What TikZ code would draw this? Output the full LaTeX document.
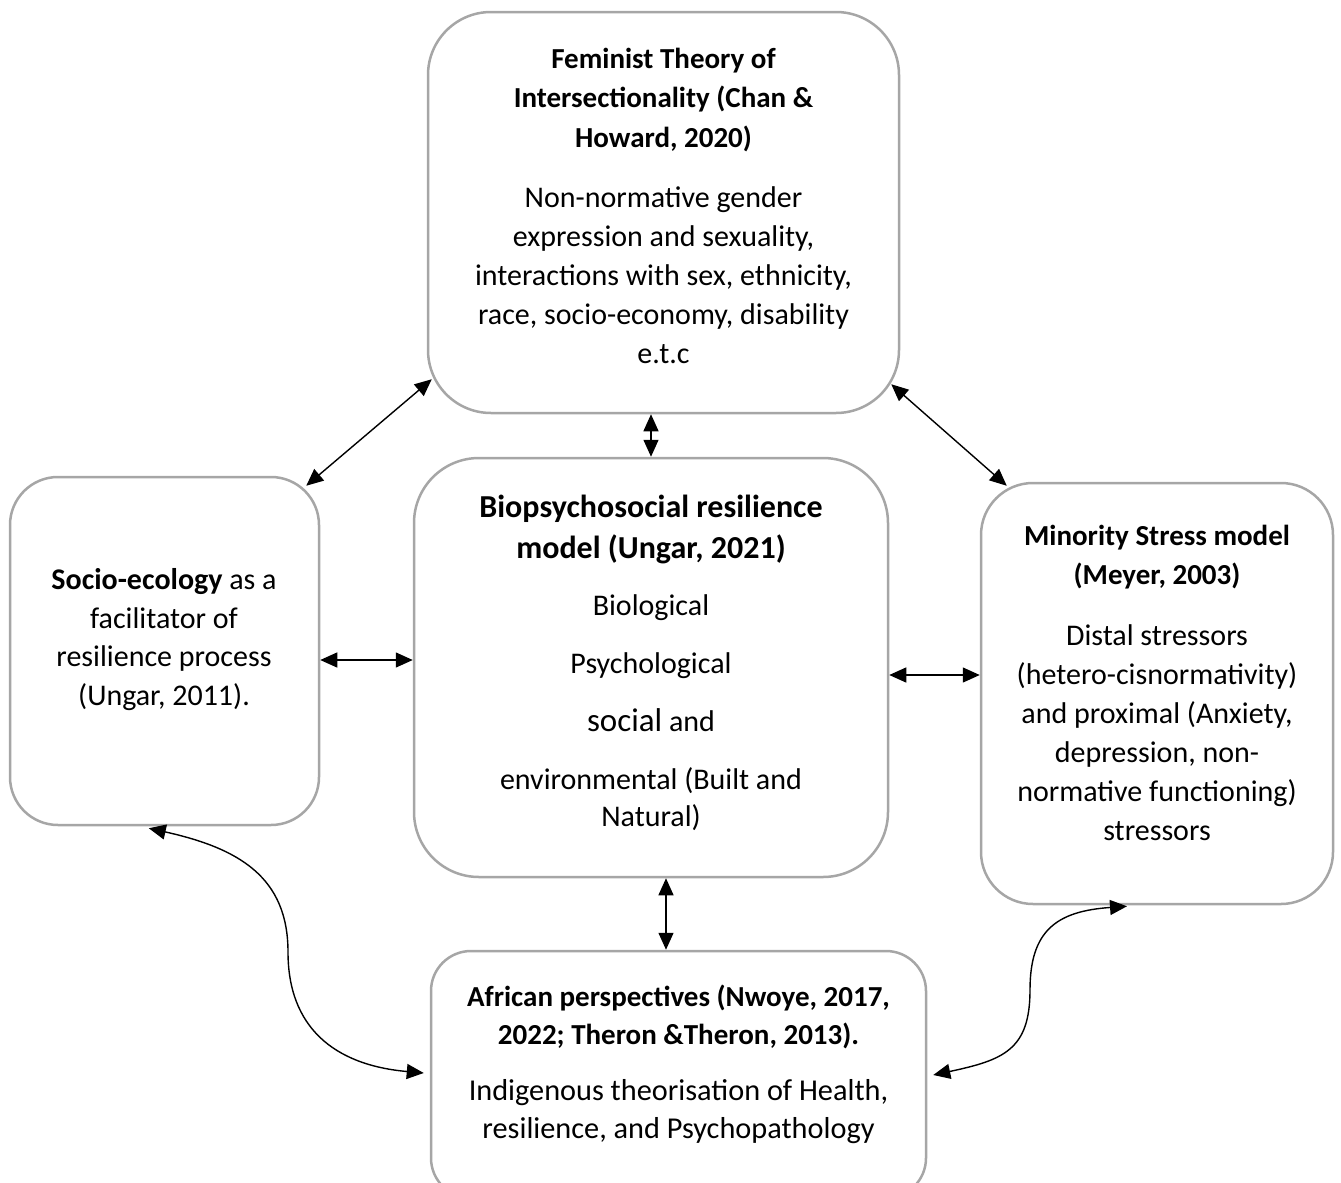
\documentclass[tikz,border=0pt]{standalone}
\usepackage{fontspec}
\setmainfont{Carlito}
\usetikzlibrary{arrows.meta}
\definecolor{boxgray}{HTML}{A6A6A6}
\tikzset{
  panel/.style={draw=boxgray, line width=2.5pt, rectangle, fill=white},
  bodytext/.style={align=center, inner sep=0pt, font=\fontsize{30}{39}\selectfont},
  headtext/.style={align=center, inner sep=0pt, font=\fontsize{29}{39.5}\selectfont\bfseries},
  biarrow/.style={line width=1.4pt, {Triangle[length=17pt,width=15pt]}-{Triangle[length=17pt,width=15pt]}},
}
\begin{document}
\begin{tikzpicture}[x=1pt, y=-1pt]
\useasboundingbox (0,0) rectangle (1341,1183);
\clip (0,0) rectangle (1341,1183);

% framework panels
\node[panel, rounded corners=63pt, minimum width=471pt, minimum height=401pt] (feminist) at (663.5,212.5) {};
\node[panel, rounded corners=48pt, minimum width=309pt, minimum height=348pt] (socio) at (164.5,651) {};
\node[panel, rounded corners=65pt, minimum width=474pt, minimum height=419pt] (bio) at (651,667.5) {};
\node[panel, rounded corners=52pt, minimum width=352pt, minimum height=421pt] (minority) at (1157,693.5) {};
\node[panel, rounded corners=40pt, minimum width=495pt, minimum height=247pt] (african) at (678.5,1074.5) {};

% panel texts
\node[headtext] (femhead) at (663.5,100) {Feminist Theory of\\Intersectionality (Chan \&\\Howard, 2020)};
\node[bodytext] (fembody) at (663.5,275) {Non-normative gender\\expression and sexuality,\\interactions with sex, ethnicity,\\race, socio-economy, disability\\e.t.c};

\node[bodytext, font=\fontsize{30}{38.5}\selectfont] (sociotext) at (164,639.5) {\textbf{Socio-ecology} as a\\facilitator of\\resilience process\\(Ungar, 2011).};

\node[headtext, font=\fontsize{32}{41}\selectfont\bfseries] (biohead) at (651,529.5) {Biopsychosocial resilience\\model (Ungar, 2021)};
\node[bodytext, font=\fontsize{30}{37}\selectfont] (biobody) at (651,712.5) {Biological\\[21pt]Psychological\\[21pt]{\fontsize{33}{37}\selectfont social} and\\[21pt]environmental (Built and\\Natural)};

\node[headtext] (minhead) at (1157,557) {Minority Stress model\\(Meyer, 2003)};
\node[bodytext] (minbody) at (1157,733) {Distal stressors\\(hetero-cisnormativity)\\and proximal (Anxiety,\\depression, non-\\normative functioning)\\stressors};

\node[headtext, font=\fontsize{29}{38}\selectfont\bfseries] (afrhead) at (678.5,1017) {African perspectives (Nwoye, 2017,\\2022; Theron \&Theron, 2013).};
\node[bodytext, font=\fontsize{30.3}{38}\selectfont] (afrbody) at (678.5,1112) {Indigenous theorisation of Health,\\resilience, and Psychopathology};

% straight two-way links
\draw[biarrow] ([shift={(5,-35)}]feminist.south west) -- ([shift={(-14,10)}]socio.north east);
\draw[biarrow] ([shift={(-9,-30)}]feminist.south east) -- ([shift={(27,4)}]minority.north west);
\draw[biarrow] (bio.north |- feminist.south) -- (bio.north);
\draw[biarrow] (socio.east |- 0,660) -- (bio.west |- 0,660);
\draw[biarrow] (bio.east |- 0,675) -- (minority.west |- 0,675);
\draw[biarrow] ([xshift=15pt]bio.south) -- ([xshift=-12.5pt]african.north);

% curved two-way links to the African perspectives panel
\coordinate (lbend) at (288,952);
\coordinate (rbend) at (1030,990);
\draw[biarrow] ([shift={(140,2)}]socio.south west) .. controls +(90,20) and +(0,-75) .. (lbend)
  .. controls +(0,75) and +(-90,-8) .. ([shift={(-6,-1.5)}]african.west);
\draw[biarrow] ([shift={(-30,1)}]minority.south) .. controls +(-70,5) and +(0,-60) .. (rbend)
  .. controls +(0,60) and +(70,-15) .. ([shift={(6,0.5)}]african.east);
\end{tikzpicture}
\end{document}
